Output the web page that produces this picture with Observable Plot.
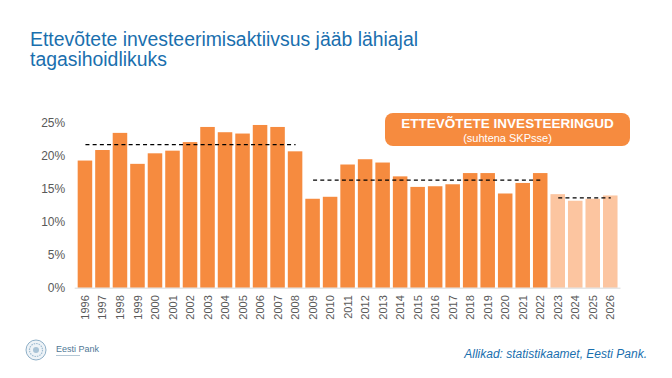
<!DOCTYPE html>
<html lang="et">
<head>
<meta charset="utf-8">
<script src="https://cdn.jsdelivr.net/npm/d3@7"></script>
<script src="https://cdn.jsdelivr.net/npm/@observablehq/plot@0.6"></script>
<style>
  html, body { margin: 0; padding: 0; background: #fff; }
  #slide { position: relative; width: 672px; height: 378px; overflow: hidden;
           font-family: "Liberation Sans", Arial, sans-serif; }
  #chart { position: absolute; left: 0; top: 0; }
  .title { position: absolute; left: 30px; top: 29px; font-size: 19.4px; line-height: 20px;
           color: #1a6fae; }
  .badge { position: absolute; left: 385px; top: 113px; width: 245px; height: 33px;
           background: #f68b3f; border-radius: 8px; color: #fff; text-align: center; }
  .badge .b1 { font-weight: bold; font-size: 13.5px; margin-top: 3px; line-height: 15px; }
  .badge .b2 { font-size: 11px; line-height: 13px; margin-top: 1px; }
  .source { position: absolute; right: 25px; top: 347px; font-style: italic; font-size: 12px;
            color: #1a6fae; }
  .logo { position: absolute; left: 25px; top: 339px; }
</style>
</head>
<body>
<div id="slide">
  <div id="chart"></div>
  <div class="title">Ettevõtete investeerimisaktiivsus jääb lähiajal<br>tagasihoidlikuks</div>
  <div class="badge"><div class="b1">ETTEVÕTETE INVESTEERINGUD</div><div class="b2">(suhtena SKPsse)</div></div>
  <svg class="logo" width="120" height="24" viewBox="0 0 120 24">
    <circle cx="11" cy="11" r="10" fill="#eef3f7" stroke="#8fb0c8" stroke-width="1"/>
    <circle cx="11" cy="11" r="6.5" fill="none" stroke="#9fbcd1" stroke-width="1.2" stroke-dasharray="1.5,1"/>
    <circle cx="11" cy="11" r="3" fill="#a9c3d6"/>
    <text x="31" y="13" font-family="Liberation Sans, Arial, sans-serif" font-size="9" fill="#4f7896">Eesti Pank</text>
    <rect x="31" y="16" width="24" height="1" fill="#b5c8d6"/>
  </svg>
  <div class="source">Allikad: statistikaamet, Eesti Pank.</div>
</div>
<script>
// Business investment as a share of GDP, %
const years = ["1996","1997","1998","1999","2000","2001","2002","2003","2004","2005","2006",
  "2007","2008","2009","2010","2011","2012","2013","2014","2015","2016","2017","2018","2019",
  "2020","2021","2022","2023","2024","2025","2026"];
const investment = [19.3, 20.9, 23.5, 18.8, 20.4, 20.8, 22.1, 24.4, 23.6, 23.4, 24.7,
  24.4, 20.7, 13.5, 13.8, 18.7, 19.5, 19.0, 16.9, 15.3, 15.4, 15.7, 17.4, 17.4,
  14.3, 15.9, 17.4, 14.2, 13.2, 13.5, 14.0];
// first forecast year
const forecastFrom = "2023";

// period averages (dashed lines)
const periodStart = ["1996", "2009", "2023"];
const periodEnd = ["2008", "2022", "2026"];
const periodAvg = [21.8, 16.4, 13.7];

const yTicks = [0, 5, 10, 15, 20, 25];

const bars = years.map((year, i) => ({year, value: investment[i], forecast: year >= forecastFrom}));
const periods = periodAvg.map((avg, i) => ({from: periodStart[i], to: periodEnd[i], avg}));

const chart = Plot.plot({
  width: 672,
  height: 378,
  marginLeft: 74.7,
  marginRight: 51.5,
  marginTop: 123,
  marginBottom: 90.3,
  style: {fontFamily: "Liberation Sans, Arial, sans-serif", background: "transparent"},
  x: {domain: years, padding: 0.17, round: false, label: null},
  y: {domain: [0, 25], label: null},
  marks: [
    Plot.barY(bars, {x: "year", y: "value", fill: d => d.forecast ? "#fcc5a0" : "#f68b3f"}),
    Plot.ruleY([0], {stroke: "#d9d9d9", strokeWidth: 1}),
    Plot.link(periods, {x1: "from", x2: "to", y1: "avg", y2: "avg",
      stroke: "#000", strokeWidth: 1.3, strokeDasharray: "4,3.2"}),
    Plot.axisY(yTicks, {tickSize: 0, tickPadding: 10, fontSize: 12, fill: "#595959",
      tickFormat: d => d + "%", label: null}),
    Plot.axisX({tickSize: 0, tickPadding: 7, tickRotate: -90, fontSize: 11, fill: "#595959", label: null})
  ]
});
document.getElementById("chart").appendChild(chart);
</script>
</body>
</html>
